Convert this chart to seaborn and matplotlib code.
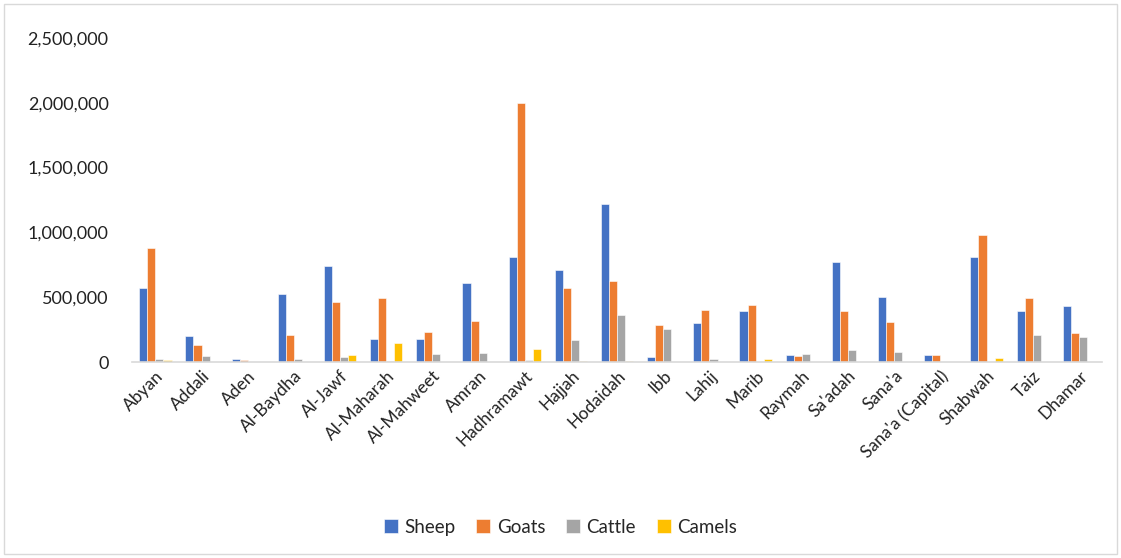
import matplotlib
matplotlib.use("Agg")
import matplotlib.pyplot as plt
import matplotlib.ticker as mticker
from matplotlib.patches import Rectangle
import seaborn as sns
import numpy as np
import pandas as pd

governorates = ["Abyan", "Addali", "Aden", "Al-Baydha", "Al-Jawf", "Al-Maharah",
                "Al-Mahweet", "Amran", "Hadhramawt", "Hajjah", "Hodaidah", "Ibb",
                "Lahij", "Marib", "Raymah", "Sa'adah", "Sana'a", "Sana'a (Capital)",
                "Shabwah", "Taiz", "Dhamar"]
sheep = [573000, 198000, 21000, 529000, 745000, 182000, 182000, 612000, 807000, 712000,
         1216000, 41000, 298000, 391000, 54000, 776000, 499000, 54000, 807000, 396000, 434000]
goats = [884000, 136000, 13000, 213000, 463000, 493000, 234000, 321000, 2000000, 573000,
         622000, 283000, 401000, 437000, 46000, 396000, 306000, 54000, 979000, 491000, 221000]
cattle = [26000, 46000, 0, 21000, 39000, 10000, 62000, 67000, 15000, 170000,
          360000, 252000, 26000, 3000, 59000, 90000, 82000, 0, 2000, 213000, 195000]
camels = [13000, 0, 0, 0, 54000, 146000, 0, 0, 98000, 5000,
          10000, 0, 2000, 21000, 0, 2000, 0, 0, 33000, 0, 0]

species = ["Sheep", "Goats", "Cattle", "Camels"]
colors = ["#4472C4", "#ED7D31", "#A5A5A5", "#FFC000"]

df = pd.DataFrame({"Governorate": governorates, "Sheep": sheep, "Goats": goats,
                   "Cattle": cattle, "Camels": camels})
long = df.melt(id_vars="Governorate", var_name="Species", value_name="Count")

sns.set_style("white")
plt.rcParams["font.family"] = ["Lato", "DejaVu Sans"]

fig = plt.figure(figsize=(11.21, 5.58), dpi=100)
ax = fig.add_axes([0.118, 0.351, 0.865, 0.581])

sns.barplot(data=long, x="Governorate", y="Count", hue="Species", hue_order=species,
            palette=colors, saturation=1, width=0.7, edgecolor="white", linewidth=0.4,
            ax=ax, legend=True)

ax.set_xlim(-0.5, len(governorates) - 0.5)
ax.set_ylim(0, 2500000)
ax.yaxis.set_major_locator(mticker.MultipleLocator(500000))
ax.yaxis.set_major_formatter(mticker.FuncFormatter(lambda v, p: f"{int(v):,}"))
ax.set_xlabel("")
ax.set_ylabel("")
ax.tick_params(axis="y", labelsize=13, length=0, pad=17, colors="#222222")
ax.tick_params(axis="x", labelsize=12.5, length=0, pad=4, colors="#222222")
plt.setp(ax.get_xticklabels(), rotation=45, ha="right", rotation_mode="anchor")

for side in ["top", "right", "left"]:
    ax.spines[side].set_visible(False)
ax.spines["bottom"].set_color("#D9D9D9")
ax.spines["bottom"].set_linewidth(1.2)

ax.legend(loc="center", bbox_to_anchor=(0.5, 0.055), bbox_transform=fig.transFigure,
          ncol=4, frameon=False, fontsize=13.5, handlelength=0.75, handleheight=0.75,
          handletextpad=0.35, columnspacing=1.1)

fig.patches.append(Rectangle((0.004, 0.008), 0.992, 0.984, transform=fig.transFigure,
                             fill=False, edgecolor="#D9D9D9", linewidth=1))

fig.savefig("out.png", dpi=100)
